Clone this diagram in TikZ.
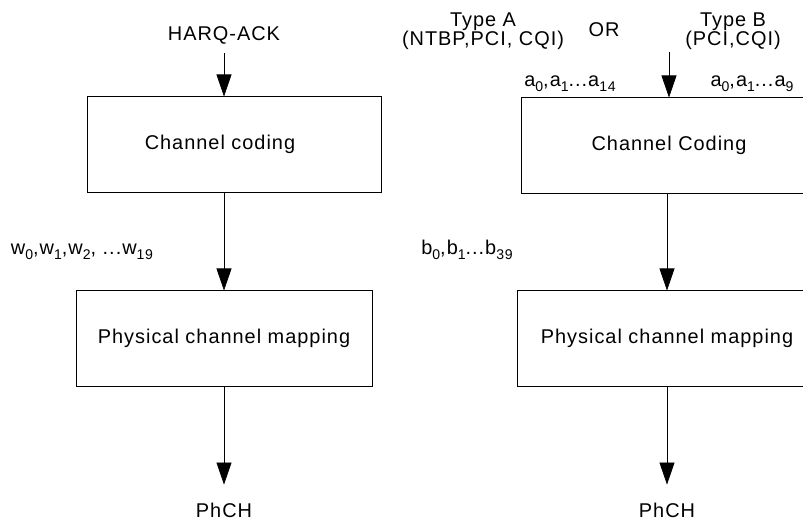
\documentclass[tikz,border=0pt]{standalone}
\usepackage{fontspec}
\setmainfont{Liberation Sans}[LetterSpace=5]
\usetikzlibrary{arrows.meta}
\newcommand{\sbs}[1]{\raisebox{-0.45ex}{\fontsize{12pt}{12pt}\selectfont #1}}

\begin{document}
\begin{tikzpicture}
        [x=0.03cm, y=-0.03cm, font=\fontsize{17pt}{16.5pt}\selectfont,
         >={Triangle[length=0.66cm, width=0.45cm]},
         block/.style={rectangle, draw=black, line width=0.6pt, minimum height=2.86cm},
         flow/.style={->, line width=0.6pt}]

        \useasboundingbox (0, 0) rectangle (803, 524);
        \clip (0, 0) rectangle (803, 524);

        % HARQ-ACK chain
        \node[inner sep=8pt] (harq) at (224, 35) {HARQ-ACK};
        \node[block, minimum width=8.82cm] (ccL) at (234, 144.5) {Channel coding\hspace*{0.84cm}};
        \node[block, minimum width=8.88cm] (pcmL) at (224, 338.5) {Physical channel mapping};
        \node (phchL) at (224, 510) {PhCH};
        \node (wbits) at (82, 252) {w\sbs{0},w\sbs{1},w\sbs{2}, ...w\sbs{19}};

        % CQI chain
        \node[align=center] (typeA) at (483, 31) {Type A\\(NTBP,PCI, CQI)};
        \node (or) at (604, 30) {OR};
        \node[align=center] (typeB) at (733, 31) {Type B\\(PCI,CQI)};
        \node (abitsA) at (570, 84) {a\sbs{0},a\sbs{1}...a\sbs{14}};
        \node (abitsB) at (752, 84) {a\sbs{0},a\sbs{1}...a\sbs{9}};
        \coordinate (cqi) at (669, 52);
        \node[block, minimum width=8.88cm] (ccR) at (669, 145.5) {Channel Coding};
        \node[block, minimum width=9cm] (pcmR) at (667, 338.5) {Physical channel mapping};
        \node (phchR) at (667, 510) {PhCH};
        \node (bbits) at (467, 250) {b\sbs{0},b\sbs{1}...b\sbs{39}};

        \draw[flow] (harq) -- (harq |- ccL.north);
        \draw[flow] (pcmL |- ccL.south) -- (pcmL);
        \draw[flow, shorten >=0.42cm] (pcmL) -- (phchL);

        \draw[flow] (cqi) -- (ccR);
        \draw[flow] (pcmR |- ccR.south) -- (pcmR);
        \draw[flow, shorten >=0.42cm] (pcmR) -- (phchR);
    \end{tikzpicture}
\end{document}
